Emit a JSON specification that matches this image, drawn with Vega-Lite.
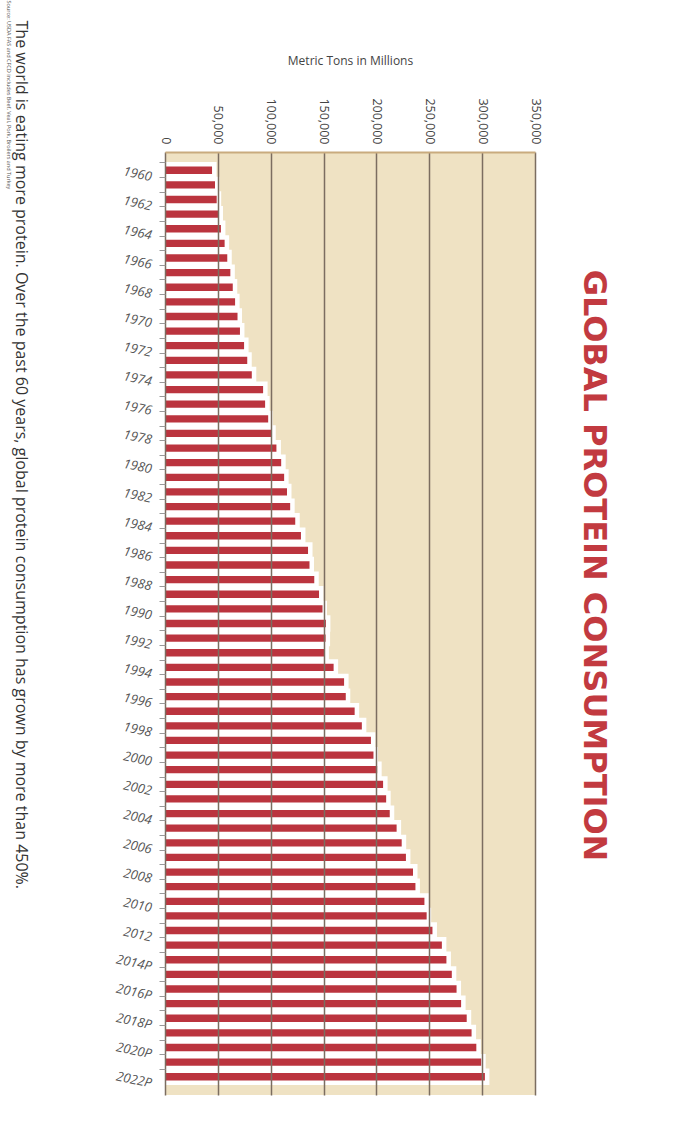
{
  "$schema": "https://vega.github.io/schema/vega-lite/v6.json",
  "width": 370,
  "height": 943,
  "autosize": {"type": "none"},
  "padding": {"left": 165, "top": 152, "right": 143, "bottom": 28},
  "background": "white",
  "config": {
    "view": {"stroke": null, "fill": "#efe2c3"},
    "font": "Open Sans"
  },
  "title": {
    "text": "GLOBAL PROTEIN CONSUMPTION",
    "orient": "right",
    "anchor": "middle",
    "angle": 90,
    "fontSize": 32,
    "fontWeight": "bold",
    "font": "DejaVu Sans",
    "color": "#c23a40",
    "offset": 36,
    "dx": -58
  },
  "data": {
    "values": [
      {"year": "1960", "tons": 44500},
      {"year": "1961", "tons": 47300},
      {"year": "1962", "tons": 48900},
      {"year": "1963", "tons": 50600},
      {"year": "1964", "tons": 52900},
      {"year": "1965", "tons": 56400},
      {"year": "1966", "tons": 58900},
      {"year": "1967", "tons": 61800},
      {"year": "1968", "tons": 64100},
      {"year": "1969", "tons": 66300},
      {"year": "1970", "tons": 68600},
      {"year": "1971", "tons": 70900},
      {"year": "1972", "tons": 74800},
      {"year": "1973", "tons": 77800},
      {"year": "1974", "tons": 82100},
      {"year": "1975", "tons": 92800},
      {"year": "1976", "tons": 94700},
      {"year": "1977", "tons": 97600},
      {"year": "1978", "tons": 100500},
      {"year": "1979", "tons": 105400},
      {"year": "1980", "tons": 109900},
      {"year": "1981", "tons": 112700},
      {"year": "1982", "tons": 115400},
      {"year": "1983", "tons": 118400},
      {"year": "1984", "tons": 123200},
      {"year": "1985", "tons": 128600},
      {"year": "1986", "tons": 135300},
      {"year": "1987", "tons": 136700},
      {"year": "1988", "tons": 141200},
      {"year": "1989", "tons": 145700},
      {"year": "1990", "tons": 149000},
      {"year": "1991", "tons": 152200},
      {"year": "1992", "tons": 151900},
      {"year": "1993", "tons": 150800},
      {"year": "1994", "tons": 159500},
      {"year": "1995", "tons": 169400},
      {"year": "1996", "tons": 171000},
      {"year": "1997", "tons": 179400},
      {"year": "1998", "tons": 186200},
      {"year": "1999", "tons": 194800},
      {"year": "2000", "tons": 197200},
      {"year": "2001", "tons": 200700},
      {"year": "2002", "tons": 206300},
      {"year": "2003", "tons": 209200},
      {"year": "2004", "tons": 212600},
      {"year": "2005", "tons": 219100},
      {"year": "2006", "tons": 223900},
      {"year": "2007", "tons": 227900},
      {"year": "2008", "tons": 234600},
      {"year": "2009", "tons": 236900},
      {"year": "2010", "tons": 245400},
      {"year": "2011", "tons": 247500},
      {"year": "2012", "tons": 253000},
      {"year": "2013", "tons": 261900},
      {"year": "2014P", "tons": 266200},
      {"year": "2015P", "tons": 271300},
      {"year": "2016P", "tons": 275800},
      {"year": "2017P", "tons": 280100},
      {"year": "2018P", "tons": 285400},
      {"year": "2019P", "tons": 290000},
      {"year": "2020P", "tons": 294500},
      {"year": "2021P", "tons": 299100},
      {"year": "2022P", "tons": 302600}
    ]
  },
  "encoding": {
    "x": {
      "field": "tons",
      "type": "quantitative",
      "scale": {"domain": [0, 350000]},
      "axis": {
        "orient": "top",
        "values": [0, 50000, 100000, 150000, 200000, 250000, 300000, 350000],
        "format": ",d",
        "labelAngle": 90,
        "labelAlign": "right",
        "labelBaseline": "middle",
        "labelPadding": 8,
        "labelFontSize": 12.5,
        "labelColor": "#444444",
        "labelFlush": false,
        "labelOverlap": false,
        "ticks": false,
        "domain": true,
        "domainColor": "#c9ab7e",
        "domainWidth": 2,
        "grid": true,
        "gridColor": "#7b6d60",
        "gridWidth": 1.5,
        "gridOpacity": 1,
        "zindex": 1,
        "title": "Metric Tons in Millions",
        "titleFontSize": 12,
        "titleFontWeight": "normal",
        "titleColor": "#444444",
        "titlePadding": 30
      }
    }
  },
  "layer": [
    {
      "mark": {"type": "bar", "color": "white", "stroke": "white", "strokeWidth": 9, "strokeJoin": "miter", "height": {"band": 0.5}},
      "encoding": {
        "y": {
          "field": "year",
          "type": "ordinal",
          "sort": null,
          "scale": {"paddingInner": 0, "paddingOuter": 0.75},
          "axis": {
            "orient": "left",
            "zindex": 1,
            "bandPosition": 0,
            "labelOffset": 7,
            "labelExpr": "toNumber(substring(datum.value, 0, 4)) % 2 == 0 ? datum.value : ''",
            "labelAngle": 12,
            "labelAlign": "right",
            "labelBaseline": "middle",
            "labelFontSize": 13,
            "labelFontStyle": "italic",
            "labelColor": "#555555",
            "labelPadding": 8,
            "ticks": true,
            "tickSize": 6,
            "tickColor": "#999999",
            "domain": false,
            "title": "The world is eating more protein. Over the past 60 years, global protein consumption has grown by more than 450%.",
            "titleAngle": 90,
            "titleAlign": "left",
            "titleBaseline": "top",
            "titleX": -137,
            "titleY": -132,
            "titleFontSize": 16,
            "titleFontWeight": "normal",
            "titleColor": "#333333"
          }
        }
      }
    },
    {
      "mark": {"type": "bar", "color": "#bb343e", "height": {"band": 0.5}},
      "encoding": {
        "y": {
          "field": "year",
          "type": "ordinal",
          "sort": null,
          "axis": {
            "orient": "left",
            "labels": false,
            "ticks": false,
            "domain": false,
            "title": "Source: USDA FAS and CFCD includes Beef, Veal, Pork, Broilers and Turkey",
            "titleAngle": 90,
            "titleAlign": "left",
            "titleBaseline": "top",
            "titleX": -155,
            "titleY": -152,
            "titleFontSize": 5.5,
            "titleFontWeight": "normal",
            "titleColor": "#555555"
          }
        }
      }
    }
  ],
  "resolve": {"axis": {"y": "independent"}}
}
